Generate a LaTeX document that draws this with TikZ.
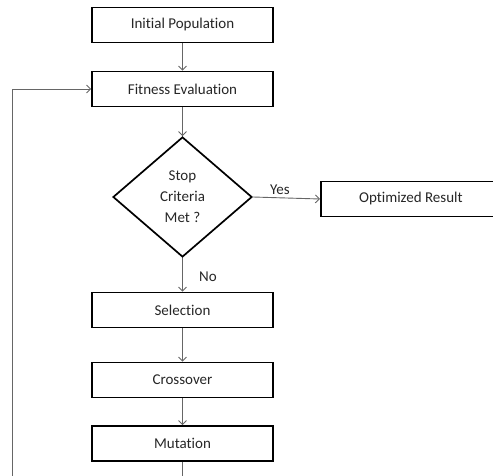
\documentclass[tikz,border=0pt]{standalone}
\usepackage{fontspec}
\setmainfont{Carlito}[Ligatures=NoCommon]
\usetikzlibrary{shapes.geometric,arrows.meta}
\begin{document}
\begin{tikzpicture}[x=1pt,y=-1pt,
  box/.style={draw=black,line width=1.7pt,minimum width=181pt,minimum height=35pt,inner sep=0pt,font=\fontsize{15}{17}\selectfont,text=black!85},
  decision/.style={draw=black,line width=1.7pt,diamond,aspect=1.16,minimum width=139pt,minimum height=120pt,inner sep=0pt,align=center,font=\fontsize{15}{21}\selectfont,text=black!85},
  conn/.style={draw=black!60,line width=0.9pt,-{Straight Barb[length=4pt,width=8pt]}},
  lbl/.style={font=\fontsize{15}{17}\selectfont,text=black!85,inner sep=0pt}]
\useasboundingbox (0,0) rectangle (493,476);
\clip (0,0) rectangle (493,476);
\node[box] (init) at (182.5,25) {Initial Population};
\node[box] (fit) at (182.5,89) {Fitness Evaluation};
\node[decision] (stop) at (182.5,197) {Stop\\Criteria\\Met ?};
\node[box,minimum width=190pt,anchor=west] (opt) at (320,199) {\hspace*{-10pt}Optimized Result};
\node[box] (sel) at (182.5,310) {Selection};
\node[box] (cro) at (182.5,380) {Crossover};
\node[box] (mut) at (182.5,443.5) {Mutation};
\node[lbl] (yes) at (280,190) {Yes};
\node[lbl] (no) at (208,277) {No};
\coordinate (b1) at (182.5,495);
\coordinate (b2) at (12,495);
\path[conn] (init) -- (fit);
\path[conn] (fit) -- (stop);
\path[conn] (stop.east) -- (opt.west);
\path[conn] (stop) -- (sel);
\path[conn] (sel) -- (cro);
\path[conn] (cro) -- (mut);
\path[conn] (mut) -- (b1) -- (b2) |- (fit.west);
\end{tikzpicture}
\end{document}
